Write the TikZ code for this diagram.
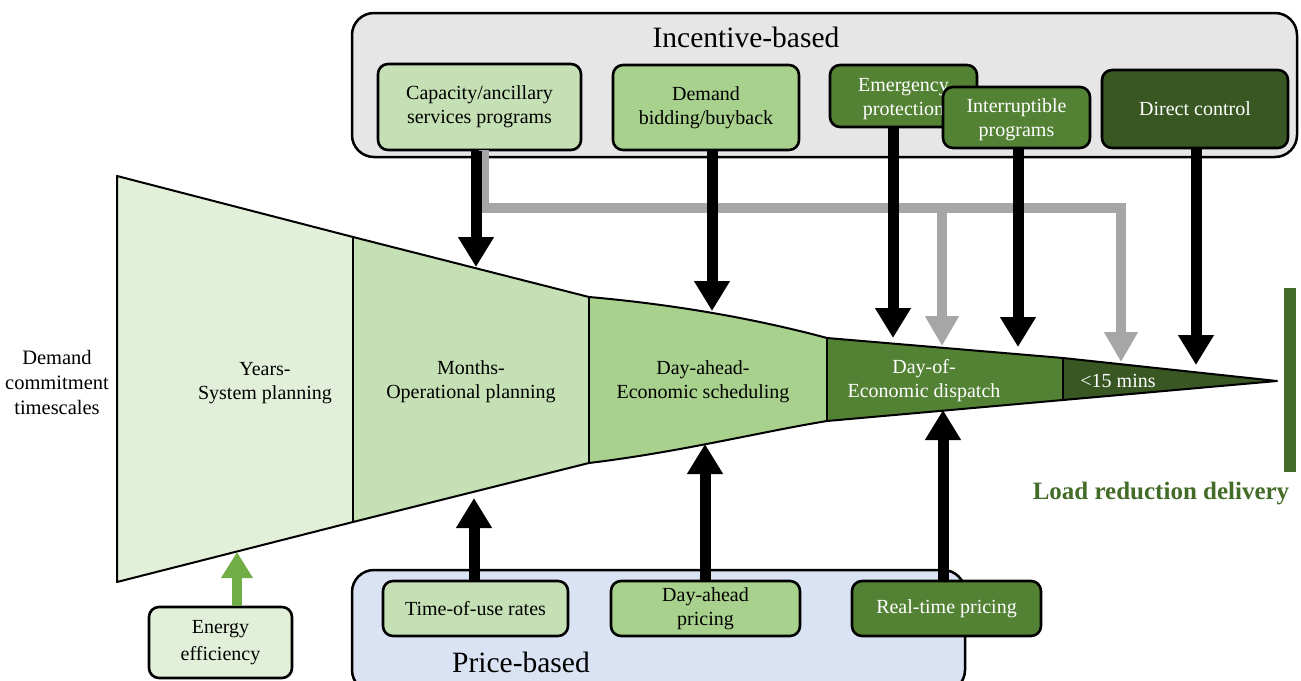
\documentclass[tikz,border=0pt]{standalone}
\usepackage{fontspec}
\setmainfont{Liberation Serif}
\usetikzlibrary{arrows.meta}

\definecolor{panelgray}{HTML}{E7E6E6}
\definecolor{panelblue}{HTML}{DAE3F3}
\definecolor{gA}{HTML}{E2F0D9}
\definecolor{gB}{HTML}{C5E0B4}
\definecolor{gC}{HTML}{A9D18E}
\definecolor{gD}{HTML}{548235}
\definecolor{gE}{HTML}{385723}
\definecolor{effgreen}{HTML}{70AD47}
\definecolor{linkgray}{HTML}{A6A6A6}
\definecolor{loadgreen}{HTML}{436C28}

\begin{document}
\begin{tikzpicture}[x=1pt,y=-1pt,
  txt/.style={font=\fontsize{20}{24}\selectfont, align=center},
  prog/.style={txt, draw=black, line width=2.6pt, rounded corners=10pt, inner sep=0pt},
  panel/.style={draw=black, line width=2.5pt, rounded corners=22pt},
  paneltitle/.style={font=\fontsize{29.5}{34}\selectfont},
  push/.style={line width=11pt, -{Triangle[width=34pt,length=30pt]}},
  link/.style={draw=linkgray, line width=10pt},
  linkarrow/.style={linkgray, line width=10pt, -{Triangle[width=32pt,length=30pt]}},
  effarrow/.style={effgreen, line width=10pt, -{Triangle[width=30pt,length=26pt]}},
  edge/.style={draw=black, line width=2pt, line join=round},
  lighttxt/.style={txt, text=white}
]
\useasboundingbox (0,0) rectangle (1301,680);
\clip (0,0) rectangle (1301,680);

% ---------- panels ----------
\draw[panel, fill=panelgray] (352,13) rectangle (1297,157);
\node[paneltitle] (inc) at (746,37) {Incentive-based};
\draw[panel, fill=panelblue] (352,570) rectangle (965,692);
\node[paneltitle] (price) at (521,662) {Price-based};

% ---------- incentive-based programmes ----------
\node[prog, fill=gB, minimum width=203pt, minimum height=86pt] (cap) at (479.5,107)
  {Capacity/ancillary\\services programs};
\node[prog, fill=gC, minimum width=186pt, minimum height=85pt] (bid) at (706,107.5)
  {Demand\\bidding/buyback};
\node[prog, fill=gD, minimum width=147pt, minimum height=62pt] (emer) at (903.5,96) {};
\node[lighttxt] (emerText) at (903.5,99.5) {Emergency\\protection};
\node[prog, fill=gD, minimum width=147pt, minimum height=61pt] (intr) at (1016.5,117.5) {};
\node[lighttxt] (intrText) at (1016.5,120) {Interruptible\\programs};
\node[prog, fill=gE, text=white, minimum width=186pt, minimum height=78pt] (direct) at (1195,109)
  {Direct control};

% ---------- price-based programmes ----------
\node[prog, fill=gB, minimum width=185pt, minimum height=55pt] (tou) at (475.5,608.5)
  {Time-of-use rates};
\node[prog, fill=gC, minimum width=189pt, minimum height=55pt] (dap) at (705.5,608.5)
  {Day-ahead\\pricing};
\node[prog, fill=gD, text=white, minimum width=189pt, minimum height=55pt] (rtp) at (946.5,608.5)
  {Real-time pricing};
\node[prog, fill=gA, minimum width=143pt, minimum height=71pt,
  font=\fontsize{20}{27}\selectfont] (eff) at (220.5,642.5)
  {Energy\\efficiency};

% ---------- commitment funnel ----------
\coordinate (t0) at (117,176);  \coordinate (b0) at (117,582);
\coordinate (t1) at (353,237);  \coordinate (b1) at (353,522);
\coordinate (t2) at (589,297);  \coordinate (b2) at (589,463);
\coordinate (t3) at (827,338);  \coordinate (b3) at (827,421);
\coordinate (t4) at (1063,358); \coordinate (b4) at (1063,400);
\coordinate (tip) at (1277,381);

\fill[gA] (t0) -- (t1) -- (b1) -- (b0) -- cycle;
\fill[gB] (t1) -- (t2) -- (b2) -- (b1) -- cycle;
\fill[gC] (t2) .. controls (680,305) and (760,320) .. (t3) -- (b3)
  .. controls (760,432) and (680,452) .. (b2) -- cycle;
\fill[gD] (t3) -- (t4) -- (b4) -- (b3) -- cycle;
\fill[gE] (t4) -- (tip) -- (b4) -- cycle;
\draw[edge] (t0) -- (t1) -- (t2) .. controls (680,305) and (760,320) .. (t3)
  -- (t4) -- (tip) -- (b4) -- (b3) .. controls (760,432) and (680,452) .. (b2)
  -- (b1) -- (b0) -- cycle;
\draw[edge] (t1) -- (b1);
\draw[edge] (t2) -- (b2);
\draw[edge] (t3) -- (b3);
\draw[edge] (t4) -- (b4);

\node[txt] (years) at (265,383) {Years-\\System planning};
\node[txt] (months) at (471,382) {Months-\\Operational planning};
\node[txt] (dayahead) at (703,382) {Day-ahead-\\Economic scheduling};
\node[lighttxt] (dayof) at (924,381) {Day-of-\\Economic dispatch};
\node[lighttxt] (fast) at (1118,381) {<15 mins};
\node[txt, font=\fontsize{20.5}{25}\selectfont] (timescales) at (57,382)
  {Demand\\commitment\\timescales};

% ---------- load reduction delivery ----------
\fill[loadgreen] (1284,288) rectangle (1296,472);
\node[font=\bfseries\fontsize{25}{29}\selectfont, text=loadgreen] (load) at (1161,494)
  {Load reduction delivery};

% ---------- arrow end points on the funnel ----------
\coordinate (capTip) at (476,267);
\coordinate (bidTip) at (712,311);
\coordinate (emerTip) at (893,338);
\coordinate (grayTipA) at (942,346);
\coordinate (intrTip) at (1018,347);
\coordinate (grayTipB) at (1121,362);
\coordinate (directTip) at (1196,365);
\coordinate (touTip) at (474,498);
\coordinate (dapTip) at (705,444);
\coordinate (rtpTip) at (943,410);
\coordinate (effTip) at (237,552);
\coordinate (grayStart) at (484,150);
\coordinate (grayBend) at (484,208);

% gray links from the capacity programmes to the late timescales
\draw[link, line join=miter] (grayStart) -- (grayBend) -- (grayBend -| grayTipB)
  -- ([yshift=-20pt]grayBend -| grayTipB);
\draw[linkarrow] (grayBend -| grayTipB) -- (grayTipB);
\draw[linkarrow] (grayBend -| grayTipA) -- (grayTipA);

% downward arrows from incentive-based programmes
\draw[push] (cap.south -| capTip) -- (capTip);
\draw[push] (bid.south -| bidTip) -- (bidTip);
\draw[push] (emer.south -| emerTip) -- (emerTip);
\draw[push] (intr.south -| intrTip) -- (intrTip);
\draw[push] (direct.south -| directTip) -- (directTip);

% upward arrows from price-based programmes
\draw[push] (tou.north -| touTip) -- (touTip);
\draw[push] (dap.north -| dapTip) -- (dapTip);
\draw[push] (rtp.north -| rtpTip) -- (rtpTip);
\draw[effarrow] (eff.north -| effTip) -- (effTip);
\end{tikzpicture}
\end{document}
